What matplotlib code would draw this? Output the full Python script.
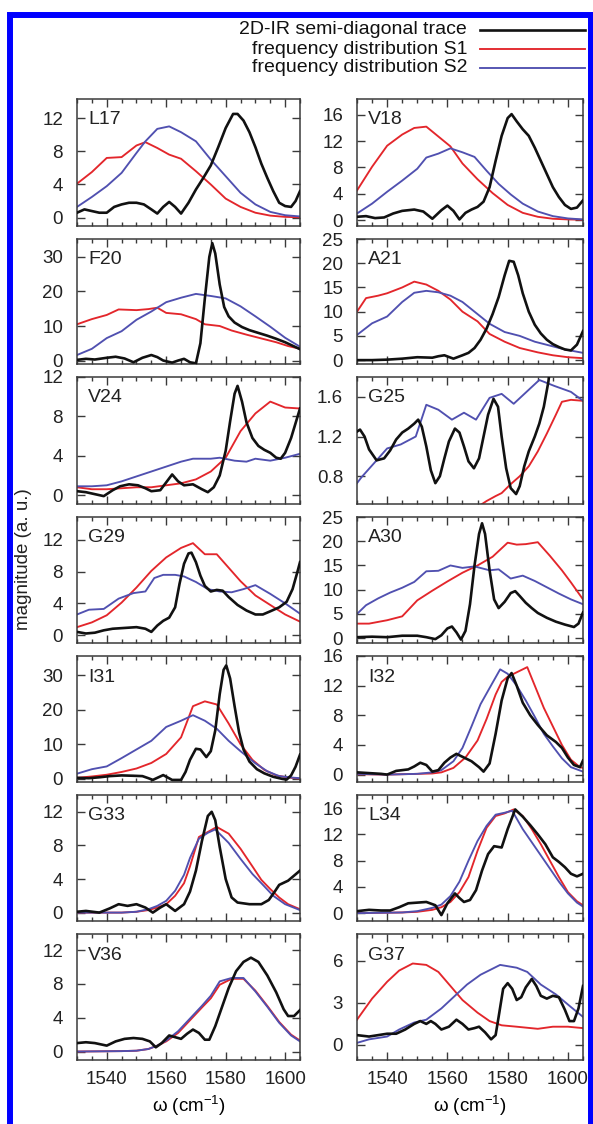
import matplotlib
matplotlib.use("Agg")
import matplotlib.pyplot as plt
import matplotlib.patches as mpatches
from matplotlib.lines import Line2D
from matplotlib.ticker import MultipleLocator, FormatStrFormatter

plt.rcParams.update({
    "font.family": ["Liberation Sans", "DejaVu Sans"],
    "font.size": 13.5,
    "mathtext.fontset": "custom",
    "mathtext.rm": "Liberation Sans",
    "mathtext.it": "Liberation Sans:italic",
    "axes.linewidth": 1.1,
    "axes.edgecolor": "#3a3a3a",
    "xtick.color": "#3a3a3a",
    "ytick.color": "#3a3a3a",
    "xtick.labelcolor": "#222222",
    "ytick.labelcolor": "#222222",
})

BLACK = "#111111"
RED = "#e3262b"
BLUE = "#5050b0"

# ── data (omega in cm^-1, magnitude in a.u.) ───────────────────────────────
# L17
L17_tr_w = [1530, 1532.5, 1535, 1537.5, 1540, 1542.5, 1545, 1547.5, 1550, 1552.5, 1555, 1557, 1559, 1561, 1563, 1565,
            1567.5, 1570, 1572.5, 1575, 1577.5, 1580, 1582.5, 1584, 1586, 1588, 1590, 1592, 1594, 1596, 1598, 1600,
            1602, 1603.5, 1605]
L17_tr = [0.6, 1.0, 0.8, 0.6, 0.6, 1.3, 1.6, 1.8, 1.8, 1.6, 1.0, 0.5, 1.3, 1.9, 1.3, 0.5,
          1.8, 3.4, 4.8, 6.3, 8.5, 10.8, 12.5, 12.5, 11.7, 10.3, 8.5, 6.5, 4.8, 3.2, 1.8, 1.4,
          1.3, 2.0, 3.2]
L17_s1_w = [1530, 1535, 1540, 1545, 1550, 1553, 1557, 1561, 1565, 1570, 1575, 1580, 1585, 1590, 1595, 1600, 1605]
L17_s1 = [4.1, 5.5, 7.2, 7.3, 8.7, 9.1, 8.4, 7.6, 7.1, 5.6, 4.0, 2.3, 1.3, 0.6, 0.25, 0.1, 0.05]
L17_s2_w = [1530, 1535, 1540, 1545, 1550, 1553, 1557, 1561, 1565, 1570, 1575, 1580, 1585, 1590, 1595, 1600, 1605]
L17_s2 = [1.3, 2.5, 3.8, 5.4, 7.8, 9.2, 10.7, 11.0, 10.3, 9.2, 7.0, 5.0, 3.0, 1.6, 0.7, 0.3, 0.15]

# V18
V18_tr_w = [1530, 1533, 1536, 1539, 1542, 1545, 1549, 1552, 1555, 1558, 1560, 1562, 1564, 1566, 1568, 1570, 1572,
            1574, 1576, 1578, 1580, 1581.3, 1583, 1585, 1587, 1589, 1591, 1593, 1595, 1597, 1599, 1601, 1603, 1605]
V18_tr = [0.5, 0.6, 0.3, 0.4, 1.0, 1.4, 1.6, 1.3, 0.2, 1.5, 2.2, 1.4, 0.1, 1.1, 1.6, 2.0, 2.8,
          5.0, 9.0, 12.8, 15.5, 16.1, 15.0, 13.8, 12.8, 11.0, 9.0, 7.0, 5.0, 3.5, 2.3, 1.7, 1.9, 3.0]
V18_s1_w = [1530, 1535, 1540, 1545, 1549, 1553, 1557, 1561, 1565, 1570, 1575, 1580, 1585, 1590, 1595, 1600, 1605]
V18_s1 = [4.5, 8.1, 11.3, 13.0, 14.0, 14.2, 12.7, 11.2, 8.6, 6.2, 4.1, 2.3, 1.1, 0.5, 0.2, 0.1, 0.05]
V18_s2_w = [1530, 1535, 1540, 1545, 1550, 1553, 1557, 1561, 1565, 1569, 1573, 1577, 1581, 1585, 1590, 1595, 1600, 1605]
V18_s2 = [1.0, 2.5, 4.3, 6.0, 7.8, 9.5, 10.1, 10.9, 10.3, 9.6, 7.5, 5.5, 3.9, 2.5, 1.3, 0.6, 0.25, 0.1]

# F20
F20_tr_w = [1530, 1533, 1536, 1540, 1543, 1546, 1549, 1552, 1555, 1557, 1559, 1562, 1564, 1566, 1568, 1570,
            1571.5, 1573, 1574.5, 1575.5, 1576.5, 1578, 1579.5, 1581, 1583, 1585.5, 1588, 1591, 1594, 1597,
            1600, 1602.5, 1605]
F20_tr = [0.2, 0.5, 0.3, 0.8, 1.1, 0.6, -0.5, 0.8, 1.6, 1.0, 0.0, -0.6, 0.0, 0.5, -0.5, -0.8,
          5.0, 18.0, 30.0, 34.0, 31.0, 22.0, 15.5, 12.8, 11.0, 9.7, 8.8, 8.0, 7.2, 6.3,
          5.3, 4.3, 3.3]
F20_s1_w = [1530, 1535, 1540, 1544, 1550, 1554, 1557, 1560, 1565, 1570, 1573, 1578, 1582, 1587, 1592, 1597, 1601, 1605]
F20_s1 = [10.5, 12.0, 13.2, 14.8, 14.6, 14.9, 15.3, 13.8, 13.4, 12.0, 10.5, 10.0, 8.7, 7.5, 6.4, 5.3, 4.2, 3.4]
F20_s2_w = [1530, 1535, 1540, 1545, 1550, 1555, 1560, 1565, 1570, 1575, 1580, 1585, 1590, 1595, 1600, 1605]
F20_s2 = [1.6, 3.4, 6.5, 8.5, 11.8, 14.2, 16.9, 18.2, 19.3, 18.7, 18.0, 15.7, 12.8, 9.8, 6.6, 4.0]

# A21
A21_tr_w = [1530, 1535, 1540, 1545, 1550, 1555, 1557, 1559, 1562, 1565, 1567, 1569, 1571, 1573, 1575, 1577, 1579,
            1580.5, 1582, 1583.5, 1585, 1587, 1589, 1591, 1593, 1595, 1597, 1599, 1601, 1603, 1605]
A21_tr = [0.0, 0.0, 0.1, 0.3, 0.6, 0.5, 0.8, 1.0, 0.3, 1.0, 1.5, 2.5, 4.2, 6.5, 9.5, 13.0, 17.5,
          20.5, 20.3, 17.5, 13.8, 10.0, 7.3, 5.5, 4.2, 3.3, 2.7, 2.2, 2.0, 3.2, 6.0]
A21_s1_w = [1530, 1533, 1537, 1540, 1545, 1549, 1553, 1557, 1561, 1565, 1570, 1574, 1579, 1584, 1590, 1595, 1600, 1605]
A21_s1 = [10.0, 12.8, 13.3, 13.8, 15.0, 16.2, 15.6, 14.3, 12.5, 10.0, 8.0, 5.4, 3.8, 2.5, 1.6, 1.0, 0.6, 0.4]
A21_s2_w = [1530, 1535, 1540, 1545, 1549, 1553, 1557, 1561, 1565, 1570, 1574, 1579, 1584, 1589, 1594, 1599, 1605]
A21_s2 = [5.2, 7.6, 9.0, 12.0, 13.9, 14.3, 14.0, 13.3, 12.0, 9.5, 7.5, 5.8, 5.0, 3.8, 3.0, 2.2, 1.5]

# V24
V24_tr_w = [1530, 1533, 1536, 1539, 1542, 1544.5, 1547.5, 1550.5, 1553, 1555, 1558, 1560, 1562, 1564, 1566, 1569,
            1572, 1574, 1576, 1578, 1580, 1581.5, 1583, 1584, 1585.5, 1587, 1589, 1591, 1593, 1595, 1597, 1598.5,
            1600, 1602, 1604, 1605]
V24_tr = [0.4, 0.3, 0.1, -0.1, 0.5, 0.9, 1.1, 1.0, 0.7, 0.4, 0.5, 1.3, 2.1, 1.4, 1.0, 1.1,
          0.6, 0.3, 0.8, 2.0, 4.5, 7.5, 10.3, 11.1, 9.5, 7.4, 5.8, 5.0, 4.6, 4.3, 3.8, 3.7,
          4.3, 5.8, 7.8, 8.8]
V24_s1_w = [1530, 1535, 1540, 1545, 1550, 1555, 1560, 1565, 1570, 1575, 1580, 1585, 1590, 1595, 1600, 1605]
V24_s1 = [0.8, 0.6, 0.6, 0.7, 0.8, 0.8, 1.0, 1.2, 1.6, 2.4, 3.8, 6.5, 8.3, 9.5, 8.9, 8.8]
V24_s2_w = [1530, 1535, 1540, 1545, 1550, 1555, 1560, 1565, 1569, 1575, 1578, 1583, 1587, 1590, 1595, 1600, 1605]
V24_s2 = [0.9, 0.9, 1.0, 1.4, 1.9, 2.4, 2.9, 3.4, 3.7, 3.7, 3.8, 3.5, 3.4, 3.7, 3.5, 3.8, 4.2]

# G25
G25_tr_w = [1530, 1531, 1532.5, 1534, 1536.5, 1539, 1541, 1543, 1545, 1547, 1549, 1550.3, 1551.5, 1553, 1554.5,
            1556, 1557.5, 1559, 1560.5, 1562.5, 1564, 1565.5, 1567, 1568.8, 1570.5, 1572, 1573.5, 1575.3, 1576.8,
            1578, 1579.5, 1581, 1582.8, 1584, 1585.5, 1587, 1589, 1590.5, 1592, 1593.5, 1594.5]
G25_tr = [1.25, 1.27, 1.2, 1.07, 0.96, 0.98, 1.06, 1.17, 1.24, 1.28, 1.33, 1.37, 1.3, 1.1, 0.86,
          0.73, 0.8, 0.98, 1.15, 1.28, 1.24, 1.1, 0.95, 0.88, 0.98, 1.2, 1.42, 1.58, 1.5,
          1.2, 0.88, 0.68, 0.62, 0.7, 0.9, 1.05, 1.2, 1.33, 1.5, 1.75, 2.0]
G25_s1_w = [1570, 1573, 1576, 1578, 1581, 1584, 1587, 1590, 1593, 1596, 1598, 1601, 1605]
G25_s1 = [0.49, 0.55, 0.6, 0.63, 0.72, 0.8, 0.9, 1.05, 1.23, 1.42, 1.55, 1.57, 1.56]
G25_s2_w = [1530, 1531.5, 1536.5, 1540, 1544.5, 1549.5, 1553, 1557, 1561.5, 1565.5, 1569.5, 1574, 1578, 1582,
            1590.5, 1595.5, 1601, 1605]
G25_s2 = [0.73, 0.79, 0.96, 1.08, 1.12, 1.2, 1.52, 1.47, 1.37, 1.44, 1.37, 1.59, 1.63, 1.53, 1.77, 1.71, 1.65, 1.56]

# G29
G29_tr_w = [1530, 1533, 1536, 1539, 1542, 1546, 1550, 1553, 1555, 1557, 1559, 1561, 1563, 1564.5, 1566, 1567.5,
            1568.5, 1570, 1571.5, 1573, 1575, 1577, 1579, 1581, 1584, 1587, 1590, 1592.5, 1595, 1598, 1600.5,
            1602.5, 1604, 1605]
G29_tr = [0.4, 0.2, 0.3, 0.6, 0.8, 0.9, 1.0, 0.8, 0.4, 1.2, 1.8, 2.2, 3.5, 6.5, 9.0, 10.3,
          10.4, 9.2, 7.5, 6.2, 5.5, 5.7, 5.6, 4.8, 3.8, 3.1, 2.6, 2.6, 3.0, 3.5, 4.2,
          5.8, 7.8, 9.2]
G29_s1_w = [1530, 1535, 1540, 1545, 1550, 1555, 1560, 1565, 1569, 1573, 1577, 1581, 1585, 1590, 1595, 1600, 1605]
G29_s1 = [1.0, 1.6, 2.5, 4.1, 6.0, 8.1, 9.8, 11.0, 11.6, 10.2, 10.2, 8.5, 6.8, 5.0, 3.8, 2.6, 1.7]
G29_s2_w = [1530, 1534, 1539, 1544, 1549, 1553, 1556, 1559, 1563, 1566, 1570, 1574, 1578, 1582, 1586, 1590, 1595,
            1600, 1605]
G29_s2 = [2.6, 3.2, 3.3, 4.6, 5.3, 5.5, 7.2, 7.6, 7.6, 7.4, 6.7, 5.8, 5.5, 5.4, 5.8, 6.3, 5.2, 4.0, 2.7]

# A30
A30_tr_w = [1530, 1535, 1540, 1545, 1550, 1553, 1556, 1558, 1560, 1561.5, 1563, 1564.5, 1566, 1567.5, 1569, 1570.5,
            1571.5, 1572.5, 1574, 1575.5, 1577, 1579, 1581, 1582.5, 1584, 1586, 1588, 1590, 1593, 1596, 1599,
            1602, 1603.5, 1605]
A30_tr = [0.2, 0.3, 0.2, 0.5, 0.5, 0.2, -0.2, 0.6, 2.0, 2.4, 1.2, -0.3, 1.5, 7.0, 15.0, 21.5,
          23.7, 21.5, 14.0, 8.0, 6.2, 7.5, 9.3, 9.7, 8.7, 7.3, 6.2, 5.2, 4.2, 3.4, 2.8,
          2.3, 3.0, 5.3]
A30_s1_w = [1530, 1534, 1540, 1545, 1550, 1555, 1560, 1565, 1570, 1575, 1580, 1583, 1586, 1590, 1594, 1598, 1601, 1605]
A30_s1 = [3.0, 3.0, 3.7, 4.5, 7.8, 9.8, 11.7, 13.5, 15.0, 16.8, 19.7, 19.3, 19.4, 19.8, 17.0, 14.0, 11.5, 8.0]
A30_s2_w = [1530, 1533, 1537, 1541, 1545, 1549, 1553, 1557, 1561, 1565, 1569, 1574, 1577, 1581, 1585, 1589, 1593,
            1597, 1601, 1605]
A30_s2 = [5.0, 6.8, 8.2, 9.4, 10.4, 11.6, 13.8, 13.9, 15.0, 14.5, 14.8, 14.0, 14.2, 12.3, 12.9, 11.8, 10.5,
          9.2, 8.0, 7.0]

# I31
I31_tr_w = [1530, 1534, 1538, 1541, 1545, 1549, 1552, 1554, 1555.5, 1557, 1559, 1560.5, 1562, 1565, 1566.5, 1568,
            1570, 1571.5, 1573.5, 1575, 1576.5, 1578, 1579.3, 1580.2, 1581.5, 1583, 1584.5, 1586, 1588, 1590.5,
            1593, 1596, 1599, 1600.5, 1602, 1603.5, 1605]
I31_tr = [0.3, 0.2, 0.5, 0.8, 1.0, 0.9, 0.8, 0.2, -0.3, 0.3, 1.1, 0.4, -0.3, -0.3, 2.0, 5.5,
          8.7, 8.5, 6.3, 8.0, 14.0, 24.5, 31.5, 32.8, 29.0, 21.0, 13.5, 8.5, 5.0, 2.8,
          1.6, 0.6, 0.0, -0.2, 1.0, 3.5, 7.0]
I31_s1_w = [1530, 1535, 1540, 1545, 1550, 1555, 1560, 1565, 1569, 1573, 1577, 1581, 1585, 1589, 1593, 1597, 1601, 1605]
I31_s1 = [0.3, 0.7, 1.2, 2.0, 3.0, 4.6, 7.2, 12.0, 21.0, 22.4, 21.5, 16.0, 10.0, 5.5, 2.6, 1.0, 0.4, 0.1]
I31_s2_w = [1530, 1535, 1540, 1545, 1550, 1555, 1560, 1565, 1569, 1573, 1577, 1581, 1585, 1590, 1594, 1598, 1602, 1605]
I31_s2 = [1.5, 2.8, 3.6, 6.0, 8.5, 11.0, 15.0, 16.8, 18.4, 16.8, 14.5, 11.0, 8.0, 4.5, 2.2, 0.8, 0.4, 0.2]

# I32
I32_tr_w = [1530, 1534, 1538, 1540, 1543, 1547, 1549, 1551, 1553, 1555, 1557, 1559, 1561, 1563, 1565, 1568,
            1570.5, 1572, 1574, 1576, 1578, 1580, 1581.3, 1583, 1585, 1587.5, 1590, 1593, 1596, 1598, 1600,
            1602, 1604, 1605]
I32_tr = [0.3, 0.2, 0.1, 0.0, 0.5, 0.7, 1.1, 1.6, 1.3, 0.4, 0.6, 1.6, 2.3, 2.8, 2.4, 1.8,
          1.0, 0.4, 1.5, 5.5, 10.0, 13.0, 13.7, 12.0, 9.7, 8.0, 6.7, 5.3, 4.4, 3.6, 2.3,
          1.3, 1.0, 1.9]
I32_s1_w = [1530, 1540, 1550, 1555, 1558, 1562, 1566, 1570, 1573, 1576, 1578, 1580, 1583, 1586.5, 1589, 1592,
            1595, 1598, 1601, 1604, 1605]
I32_s1 = [0.05, 0.0, 0.1, 0.15, 0.3, 0.9, 2.3, 4.6, 7.5, 10.8, 12.5, 13.2, 13.8, 14.5, 12.0, 9.0,
          6.5, 4.0, 2.0, 1.0, 0.9]
I32_s2_w = [1530, 1540, 1550, 1555, 1558, 1562, 1565, 1568, 1571, 1575, 1577.5, 1580, 1583, 1586, 1589, 1592,
            1595, 1598, 1601, 1605]
I32_s2 = [0.1, 0.0, 0.1, 0.3, 0.6, 1.8, 3.6, 6.5, 9.5, 12.4, 14.2, 13.6, 12.0, 10.0, 7.8, 5.5, 3.8, 2.2, 1.0, 0.4]

# G33
G33_tr_w = [1530, 1533, 1537.5, 1541, 1544, 1547, 1550, 1553, 1555.5, 1558, 1560, 1563, 1566, 1568, 1570, 1572,
            1574, 1575.3, 1576.5, 1578, 1580, 1582, 1584, 1588, 1592, 1594.5, 1596.5, 1598, 1601, 1603, 1605]
G33_tr = [0.1, 0.2, 0.0, 0.5, 1.0, 0.8, 1.0, 0.6, 0.0, 0.6, 1.0, 0.2, 1.0, 2.5, 5.0, 8.5,
          11.5, 12.0, 11.0, 7.8, 4.0, 1.8, 1.2, 1.0, 1.0, 1.5, 2.5, 3.3, 3.8, 4.4, 5.0]
G33_s1_w = [1530, 1545, 1550, 1554, 1557, 1560, 1563, 1566, 1568, 1571, 1574, 1577, 1581, 1585, 1589, 1592, 1595,
            1598, 1601, 1605]
G33_s1 = [0.0, 0.0, 0.1, 0.3, 0.6, 1.0, 2.0, 3.5, 5.5, 9.0, 9.6, 10.2, 9.4, 7.6, 5.5, 3.9, 2.8, 1.8, 1.0, 0.4]
G33_s2_w = [1530, 1545, 1550, 1554, 1557, 1560, 1563, 1566, 1568, 1571, 1574, 1576.5, 1581, 1585, 1589, 1592,
            1596, 1600, 1605]
G33_s2 = [0.0, 0.0, 0.1, 0.4, 0.8, 1.4, 2.6, 4.5, 6.5, 8.8, 9.5, 9.9, 8.3, 6.4, 4.6, 3.5, 2.0, 1.0, 0.3]

# L34
L34_tr_w = [1530, 1534, 1538, 1541, 1544, 1547, 1550, 1553, 1556, 1558, 1560, 1562.5, 1564, 1565.5, 1567.5,
            1569.5, 1571.5, 1573.5, 1575.5, 1578, 1580, 1582.5, 1585, 1587.5, 1590, 1592.5, 1595, 1597, 1599,
            1601, 1603, 1605]
L34_tr = [0.3, 0.5, 0.4, 0.4, 0.9, 1.5, 1.6, 1.7, 1.2, -0.3, 1.5, 3.0, 2.3, 1.7, 2.0,
          3.5, 6.5, 9.0, 10.2, 10.0, 12.8, 15.8, 14.7, 13.4, 12.0, 10.5, 8.5, 7.8, 7.0,
          6.0, 5.6, 6.0]
L34_s1_w = [1530, 1545, 1550, 1555, 1558, 1561, 1564, 1567, 1570, 1573, 1576, 1579, 1582, 1585, 1588, 1591, 1594,
            1597, 1600, 1603, 1605]
L34_s1 = [0.0, 0.1, 0.2, 0.5, 0.9, 1.7, 3.2, 5.5, 9.5, 13.0, 14.8, 15.2, 15.8, 14.8, 12.8, 10.5, 8.0,
          5.5, 3.2, 1.8, 1.2]
L34_s2_w = [1530, 1545, 1550, 1555, 1558, 1561, 1564, 1567, 1570, 1573, 1576, 1579, 1581.5, 1585, 1588, 1591, 1594,
            1597, 1600, 1603, 1605]
L34_s2 = [0.0, 0.1, 0.3, 0.8, 1.3, 2.6, 4.8, 8.0, 11.0, 13.3, 15.0, 15.3, 15.6, 12.8, 10.8, 8.8, 6.8,
          4.8, 3.0, 1.6, 1.0]

# V36
V36_tr_w = [1530, 1533, 1536, 1540, 1543, 1546, 1549, 1552, 1554.5, 1556.5, 1558.5, 1561, 1563, 1565, 1567, 1569,
            1571, 1573, 1574.5, 1576.5, 1579, 1581, 1583.5, 1586, 1588.5, 1591, 1594, 1597, 1599.5, 1601, 1603, 1605]
V36_tr = [1.0, 1.1, 1.0, 0.7, 1.2, 1.5, 1.6, 1.5, 1.2, 0.5, 1.0, 1.9, 1.7, 1.5, 2.1, 2.6,
          2.2, 1.4, 1.4, 3.0, 5.5, 7.5, 9.5, 10.6, 11.1, 10.6, 9.0, 7.0, 5.0, 4.2, 4.2, 4.9]
V36_s1_w = [1530, 1545, 1550, 1554, 1557, 1560, 1564, 1568, 1572, 1575, 1578, 1582, 1586, 1590, 1594, 1598, 1602, 1605]
V36_s1 = [0.0, 0.05, 0.1, 0.3, 0.7, 1.2, 2.2, 3.7, 5.2, 6.3, 7.9, 8.6, 8.6, 7.2, 5.4, 3.5, 2.0, 1.3]
V36_s2_w = [1530, 1545, 1550, 1554, 1557, 1560, 1564, 1568, 1572, 1575, 1578, 1582, 1586, 1590, 1594, 1598, 1602, 1605]
V36_s2 = [0.0, 0.05, 0.1, 0.3, 0.7, 1.3, 2.4, 3.9, 5.4, 6.6, 8.3, 8.7, 8.7, 7.1, 5.3, 3.4, 1.9, 1.2]

# G37
G37_tr_w = [1530, 1534, 1537, 1540, 1543, 1546, 1549, 1551, 1553, 1554.5, 1556, 1558, 1560.5, 1563, 1565, 1567,
            1569, 1570.5, 1572.5, 1574.5, 1576, 1577, 1578.5, 1580, 1581.5, 1583, 1584.5, 1586, 1588, 1589.5,
            1591, 1593, 1595, 1597, 1599, 1600.5, 1602, 1603.5, 1605]
G37_tr = [0.7, 0.6, 0.7, 0.8, 0.8, 1.1, 1.5, 1.7, 1.5, 1.7, 1.5, 1.1, 1.3, 1.8, 1.5, 1.1,
          1.2, 1.3, 0.9, 0.4, 0.7, 2.0, 4.0, 4.4, 4.0, 3.2, 3.4, 4.1, 4.7, 4.2,
          3.5, 3.3, 3.5, 3.4, 2.5, 1.7, 1.7, 2.6, 4.2]
G37_s1_w = [1530, 1535, 1540, 1544, 1548.5, 1553, 1557, 1561, 1565, 1570, 1574, 1578, 1583, 1590, 1595, 1600, 1605]
G37_s1 = [1.8, 3.3, 4.5, 5.3, 5.8, 5.7, 5.2, 4.2, 3.2, 2.3, 1.7, 1.4, 1.3, 1.15, 1.3, 1.3, 1.2]
G37_s2_w = [1530, 1534, 1540, 1544, 1549, 1553, 1558, 1562, 1566.5, 1571, 1577.5, 1583, 1586.5, 1591, 1596, 1601, 1605]
G37_s2 = [0.15, 0.4, 0.6, 1.1, 1.6, 1.8, 2.6, 3.4, 4.3, 5.0, 5.7, 5.5, 5.2, 4.3, 3.6, 2.7, 2.0]

# panel name, series, y-range, y-tick step  (left column first, row by row)
PANELS = [
    ("L17", (L17_tr_w, L17_tr), (L17_s1_w, L17_s1), (L17_s2_w, L17_s2), (-1.0, 14.3), 4),
    ("V18", (V18_tr_w, V18_tr), (V18_s1_w, V18_s1), (V18_s2_w, V18_s2), (-0.9, 18.4), 4),
    ("F20", (F20_tr_w, F20_tr), (F20_s1_w, F20_s1), (F20_s2_w, F20_s2), (-1.0, 35.2), 10),
    ("A21", (A21_tr_w, A21_tr), (A21_s1_w, A21_s1), (A21_s2_w, A21_s2), (-0.8, 25.0), 5),
    ("V24", (V24_tr_w, V24_tr), (V24_s1_w, V24_s1), (V24_s2_w, V24_s2), (-0.9, 12.0), 4),
    ("G25", (G25_tr_w, G25_tr), (G25_s1_w, G25_s1), (G25_s2_w, G25_s2), (0.52, 1.8), 0.4),
    ("G29", (G29_tr_w, G29_tr), (G29_s1_w, G29_s1), (G29_s2_w, G29_s2), (-1.0, 14.9), 4),
    ("A30", (A30_tr_w, A30_tr), (A30_s1_w, A30_s1), (A30_s2_w, A30_s2), (-1.0, 25.0), 5),
    ("I31", (I31_tr_w, I31_tr), (I31_s1_w, I31_s1), (I31_s2_w, I31_s2), (-0.9, 35.5), 10),
    ("I32", (I32_tr_w, I32_tr), (I32_s1_w, I32_s1), (I32_s2_w, I32_s2), (-1.0, 16.0), 4),
    ("G33", (G33_tr_w, G33_tr), (G33_s1_w, G33_s1), (G33_s2_w, G33_s2), (-1.0, 14.0), 4),
    ("L34", (L34_tr_w, L34_tr), (L34_s1_w, L34_s1), (L34_s2_w, L34_s2), (-1.2, 18.0), 4),
    ("V36", (V36_tr_w, V36_tr), (V36_s1_w, V36_s1), (V36_s2_w, V36_s2), (-1.0, 13.9), 4),
    ("G37", (G37_tr_w, G37_tr), (G37_s1_w, G37_s1), (G37_s2_w, G37_s2), (-1.07, 7.9), 3),
]

LEGEND = ["2D-IR semi-diagonal trace", "frequency distribution S1", "frequency distribution S2"]

# ── layout (pixels of the 593 x 1124 canvas) ───────────────────────────────
W, H = 593, 1124
COLS = [(77, 300), (357, 583)]
TOPS = [99, 239, 377, 517, 656, 795, 934]
BOTS = [226, 364, 504, 643, 782, 921, 1060]

fig = plt.figure(figsize=(W / 100, H / 100), dpi=100)

# blue frame round the whole figure
fig.patches.append(mpatches.Rectangle((10 / W, 1 - 1135 / H), 581 / W, 1120 / H,
                                      transform=fig.transFigure, fill=False,
                                      edgecolor="#0000ff", linewidth=4.3, clip_on=False))

for i, (name, tr, s1, s2, ylim, ystep) in enumerate(PANELS):
    row, col = divmod(i, 2)
    x0, x1 = COLS[col]
    top, bot = TOPS[row], BOTS[row]
    ax = fig.add_axes([x0 / W, 1 - bot / H, (x1 - x0) / W, (bot - top) / H])

    ax.plot(s1[0], s1[1], color=RED, lw=1.35, zorder=2)
    ax.plot(s2[0], s2[1], color=BLUE, lw=1.35, zorder=2)
    ax.plot(tr[0], tr[1], color=BLACK, lw=1.9, zorder=3)

    ax.set_xlim(1530, 1605)
    ax.set_ylim(*ylim)
    ax.xaxis.set_major_locator(MultipleLocator(20))
    ax.xaxis.set_minor_locator(MultipleLocator(5))
    ax.yaxis.set_major_locator(MultipleLocator(ystep))
    ax.tick_params(which="both", direction="in", top=True, right=True, width=1.0)
    ax.tick_params(which="major", length=5.5)
    ax.tick_params(which="minor", length=3)
    ax.tick_params(axis="y", pad=10, labelsize=13.5)
    ax.tick_params(axis="x", pad=8, labelsize=13.5)
    if ystep < 1:
        ax.yaxis.set_major_formatter(FormatStrFormatter("%.1f"))
    if row < len(TOPS) - 1:
        ax.tick_params(axis="x", labelbottom=False)
    else:
        ax.set_xlabel("ω (cm$^{-1}$)", fontsize=13.5, labelpad=4)

    ax.text(11 / (x1 - x0), 1 - 21 / (bot - top), name, transform=ax.transAxes,
            ha="left", va="center", fontsize=14, color="#222222")

fig.text(24 / W, 1 - 559 / H, "magnitude (a. u.)", rotation=90, ha="center", va="center",
         fontsize=13.5, color="#222222")

# legend block, top right
for k, (label, color, lw) in enumerate(zip(LEGEND, [BLACK, RED, BLUE], [1.9, 1.35, 1.35])):
    yy = 1 - (30 + 19 * k) / H
    fig.text(467 / W, yy, label, ha="right", va="center", fontsize=14, color="#111111")
    fig.lines.append(Line2D([480 / W, 585 / W], [yy, yy], transform=fig.transFigure,
                            color=color, lw=lw))

fig.savefig("out.png", dpi=100)
